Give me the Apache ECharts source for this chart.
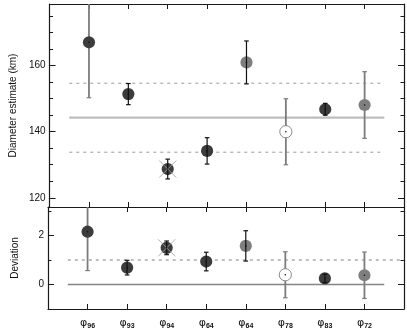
<!DOCTYPE html>
<html><head><meta charset="utf-8">
<script src="https://cdn.jsdelivr.net/npm/echarts@6/dist/echarts.min.js"></script>
<style>html,body{margin:0;padding:0;background:#fff}#c{width:407px;height:330px}</style>
</head><body><div id="c"></div>
<script>
// ---- data ----
const subscripts = ['96','93','94','64','64','78','83','72'];
const diameter = [167.1, 151.4, 128.7, 134.2, 161.0, 140.0, 146.8, 148.1];
const diameterErr = [16.8, 3.2, 3.0, 4.0, 6.5, 10.0, 1.8, 10.1];
const deviation = [2.16, 0.69, 1.50, 0.94, 1.58, 0.40, 0.25, 0.38];
const deviationErr = [1.59, 0.30, 0.28, 0.38, 0.62, 0.94, 0.17, 0.95];
const meanDiameter = 144.25;
const sigmaDiameter = 10.45;
const devZero = 0;
const devLimit = 1;
const diamMajorTicks = [120, 140, 160];
const diamMinorTicks = [125, 130, 135, 145, 150, 155, 165, 170, 175];
const devMajorTicks = [0, 2];
const devMinorTicks = [-1, 1, 3];
const xRange = [0, 9];
const refSpan = [0.5, 8.5];

// ---- styles ----
const markerKind = ['dark','dark','dark','dark','light','open','dark','light'];
const barKind = ['gray','black','black','black','black','gray','black','gray'];
const crossed = [false,false,true,false,false,false,false,false];

const xPos = subscripts.map((_, i) => i + 1);
const FONT = 'Liberation Sans, Arial, Helvetica, sans-serif';
const AXC = '#1a1a1a';

function errData(vals, errs) {
  return vals.map((v, i) => [xPos[i], v, v - errs[i], v + errs[i]]);
}

function renderPoint(params, api) {
  const i = params.dataIndex;
  const x = api.value(0);
  const c = api.coord([x, api.value(1)]);
  const lo = api.coord([x, api.value(2)]);
  const hi = api.coord([x, api.value(3)]);
  const gray = barKind[i] === 'gray';
  const bc = gray ? '#7c7c7c' : '#111';
  const bw = gray ? 1.8 : 1.2;
  const cap = 2.3;
  const bar = {type: 'group', children: [
    {type: 'line', shape: {x1: c[0], y1: lo[1], x2: c[0], y2: hi[1]}, style: {stroke: bc, lineWidth: bw}},
    {type: 'line', shape: {x1: c[0]-cap, y1: lo[1], x2: c[0]+cap, y2: lo[1]}, style: {stroke: bc, lineWidth: 1.2}},
    {type: 'line', shape: {x1: c[0]-cap, y1: hi[1], x2: c[0]+cap, y2: hi[1]}, style: {stroke: bc, lineWidth: 1.2}}
  ]};
  const r = 6.1;
  let marker;
  if (markerKind[i] === 'open') {
    marker = {type: 'circle', shape: {cx: c[0], cy: c[1], r: r}, style: {fill: '#fff', stroke: '#8a8a8a', lineWidth: 1}};
  } else {
    marker = {type: 'circle', shape: {cx: c[0], cy: c[1], r: r}, style: {fill: markerKind[i] === 'dark' ? '#3c3c3c' : '#7e7e7e'}};
  }
  const dot = {type: 'circle', shape: {cx: c[0], cy: c[1], r: 0.8}, style: {fill: '#111'}};
  const children = [];
  if (gray) { children.push(bar, marker); } else { children.push(marker, bar); }
  if (crossed[i]) {
    const d = 8.5;
    children.push({type: 'line', shape: {x1: c[0]-d, y1: c[1]-d, x2: c[0]+d, y2: c[1]+d}, style: {stroke: '#a0a0a0', lineWidth: 1, opacity: 0.85}});
    children.push({type: 'line', shape: {x1: c[0]-d, y1: c[1]+d, x2: c[0]+d, y2: c[1]-d}, style: {stroke: '#a0a0a0', lineWidth: 1, opacity: 0.85}});
  }
  children.push(dot);
  return {type: 'group', children: children};
}

function refLine(gi, y, x0, x1, color, width, dashed) {
  return {type: 'line', xAxisIndex: gi * 2, yAxisIndex: gi * 4, data: [[x0, y], [x1, y]],
    symbol: 'none', silent: true, z: 1, animation: false,
    lineStyle: {color: color, width: width, type: dashed ? [3, 4] : 'solid'}};
}

function yAxes(gi, min, max, major, minor, name, nameGap) {
  const base = {type: 'value', gridIndex: gi, min: min, max: max, splitLine: {show: false}};
  return [
    Object.assign({}, base, {position: 'left', name: name, nameLocation: 'middle', nameGap: nameGap,
      nameTextStyle: {fontFamily: FONT, fontSize: 10, color: '#111'},
      axisLine: {show: true, lineStyle: {color: AXC, width: 1.2}},
      axisTick: {show: true, inside: true, length: 6, customValues: major, lineStyle: {color: AXC}},
      axisLabel: {show: true, customValues: major, fontFamily: FONT, fontSize: 10, color: '#111', margin: 4}}),
    Object.assign({}, base, {position: 'left', axisLine: {show: false},
      axisTick: {show: true, inside: true, length: 3.5, customValues: minor, lineStyle: {color: AXC}},
      axisLabel: {show: false}}),
    Object.assign({}, base, {position: 'right', axisLine: {show: true, lineStyle: {color: AXC, width: 1.2}},
      axisTick: {show: true, inside: true, length: 6, customValues: major, lineStyle: {color: AXC}},
      axisLabel: {show: false}}),
    Object.assign({}, base, {position: 'right', axisLine: {show: false},
      axisTick: {show: true, inside: true, length: 3.5, customValues: minor, lineStyle: {color: AXC}},
      axisLabel: {show: false}})
  ];
}

function xAxes(gi, withLabels) {
  const base = {type: 'value', gridIndex: gi, min: xRange[0], max: xRange[1], splitLine: {show: false},
    axisLine: {show: true, onZero: false, lineStyle: {color: AXC, width: 1.2}},
    axisTick: {show: true, inside: true, length: 5, customValues: xPos, lineStyle: {color: AXC}}};
  return [
    Object.assign({}, base, {position: 'bottom',
      axisLabel: withLabels ? {show: true, customValues: xPos, margin: 8,
        formatter: v => '{p|φ}{s|' + subscripts[Math.round(v) - 1] + '}',
        rich: {p: {fontFamily: 'DejaVu Sans', fontSize: 11, color: '#111'},
               s: {fontFamily: FONT, fontSize: 7, color: '#111', padding: [6, 0, 0, 0], fontWeight: 'bold'}}}
        : {show: false}}),
    Object.assign({}, base, {position: 'top', axisLabel: {show: false}})
  ];
}

const chart = echarts.init(document.getElementById('c'), null, {renderer: 'canvas'});
chart.setOption({
  animation: false,
  backgroundColor: '#fff',
  grid: [
    {left: 48, width: 356, top: 4, height: 203},
    {left: 48, width: 356, top: 207, height: 102}
  ],
  xAxis: [].concat(xAxes(0, false), xAxes(1, true)),
  yAxis: [].concat(
    yAxes(0, 117.2, 178.7, diamMajorTicks, diamMinorTicks, 'Diameter estimate (km)', 28),
    yAxes(1, -1, 3.17, devMajorTicks, devMinorTicks, 'Deviation', 28)
  ),
  series: [
    refLine(0, meanDiameter, refSpan[0], refSpan[1], '#bdbdbd', 2.2, false),
    refLine(0, meanDiameter + sigmaDiameter, refSpan[0], refSpan[1], '#9a9a9a', 1, true),
    refLine(0, meanDiameter - sigmaDiameter, refSpan[0], refSpan[1], '#9a9a9a', 1, true),
    refLine(1, devZero, refSpan[0], refSpan[1], '#858585', 1.5, false),
    refLine(1, devLimit, refSpan[0], xRange[1], '#ababab', 1.5, true),
    {type: 'custom', xAxisIndex: 0, yAxisIndex: 0, clip: true, z: 3, renderItem: renderPoint,
      data: errData(diameter, diameterErr)},
    {type: 'custom', xAxisIndex: 2, yAxisIndex: 4, clip: true, z: 3, renderItem: renderPoint,
      data: errData(deviation, deviationErr)}
  ]
});
</script>
</body></html>
